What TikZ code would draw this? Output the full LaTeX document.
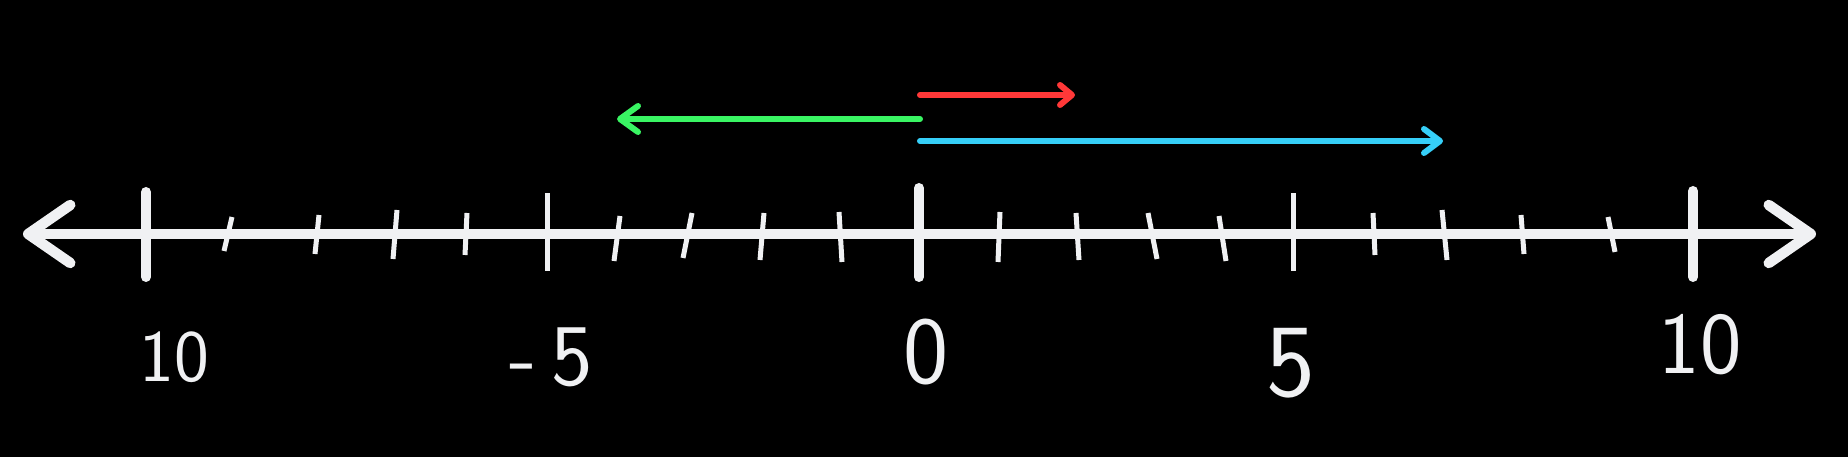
\documentclass[tikz,border=0pt]{standalone}
\usepackage{tikz}
\usetikzlibrary{arrows.meta,positioning}
\definecolor{chalk}{HTML}{F0F1F3}
\definecolor{vecred}{HTML}{FF3838}
\definecolor{vecgreen}{HTML}{39F563}
\definecolor{vecblue}{HTML}{36CFF8}

\begin{document}
\begin{tikzpicture}[x=1pt,y=1pt,
  numline/.style={chalk,line width=10.5pt,{Straight Barb[length=42pt,width=58pt,round]}-{Straight Barb[length=42pt,width=58pt,round]}},
  majortick/.style={chalk,line width=10pt,line cap=round},
  fivetick/.style={chalk,line width=5pt},
  minortick/.style={chalk,line width=5pt},
  vec/.style={line width=6pt,line cap=round},
  numlabel/.style={text=chalk,font=\sffamily\fontsize{#1}{#1}\selectfont,inner sep=0pt},
  numlabel/.default=88]
  \fill[black] (0,0) rectangle (1848,457);
  \useasboundingbox (0,0) rectangle (1848,457);
  % number line
  \coordinate (left-end) at (23,223);
  \coordinate (right-end) at (1816,223);
  \draw[numline] (left-end) -- (right-end);
  \foreach \xa/\ya/\xb/\yb in {232/240/224/206,319/242/315/203,397/247/393/198,467/244/465/202,
      620/241/614/196,692/244/683/199,764/244/760/197,839/245/842/195,
      1000/245/998/195,1076/244/1079/197,1148/244/1157/198,1219/241/1226/196,
      1373/244/1375/202,1442/247/1447/197,1521/242/1524/203,1608/240/1615/205}
    \draw[minortick] (\xa,\ya) -- (\xb,\yb);
  \foreach \x/\yt in {146/265,919/269,1693/266}
    \draw[majortick] (\x,180) -- (\x,\yt);
  \foreach \x in {547,1293}
    \draw[fivetick] (\x,186) -- (\x,264);
  % vectors from zero
  \coordinate (zero-red) at (920,362);
  \coordinate (plus-two) at (1075,362);
  \coordinate (zero-green) at (920,338);
  \coordinate (minus-four) at (617,338);
  \coordinate (zero-blue) at (920,316);
  \coordinate (plus-seven) at (1443,316);
  \draw[vec,vecred,-{Straight Barb[length=12pt,width=20pt,round]}] (zero-red) -- (plus-two);
  \draw[vec,vecgreen,-{Straight Barb[length=18pt,width=26pt,round]}] (zero-green) -- (minus-four);
  \draw[vec,vecblue,-{Straight Barb[length=16pt,width=24pt,round]}] (zero-blue) -- (plus-seven);
  % labels
  \node[numlabel=74] (label-m10) at (174,100) {10};
  \node[numlabel] (label-m5) at (551,100) {-\,5};
  \node[numlabel=96] (label-0) at (926,105) {0};
  \node[numlabel=104] (label-5) at (1291,94) {5};
  \node[numlabel=88] (label-10) at (1700,112) {10};
\end{tikzpicture}
\end{document}
